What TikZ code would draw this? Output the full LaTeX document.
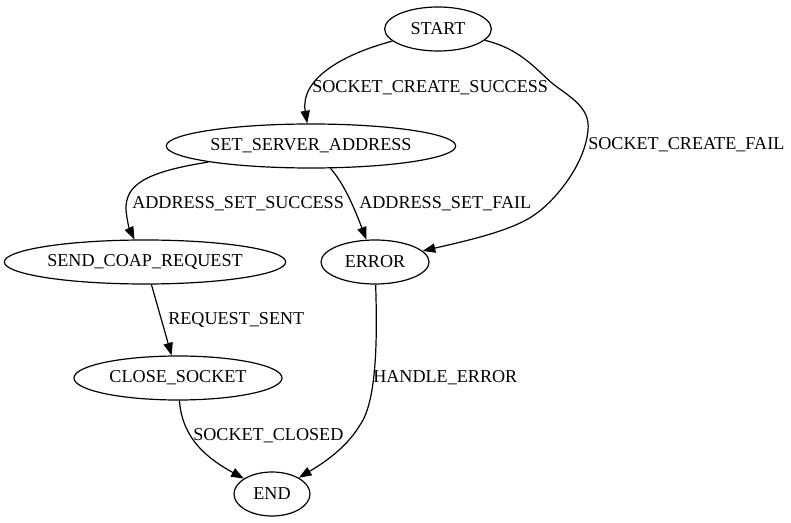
\documentclass[tikz,border=0pt]{standalone}
\usepackage{fontspec}
\setmainfont{Liberation Serif}
\usetikzlibrary{shapes.geometric,arrows.meta}

\begin{document}
\begin{tikzpicture}[x=0.75pt, y=-0.75pt,
    state/.style={draw, ellipse, line width=0.9pt, inner ysep=0pt, inner xsep=-30pt, minimum height=33pt},
    trans/.style={line width=0.9pt, -{Triangle[length=9.5pt,width=7pt]}},
    lbl/.style={inner sep=0pt, anchor=base west}]
  \fontsize{13.6}{16}\selectfont
  \useasboundingbox (0,0) rectangle (791,523);
  % States
  \node[state, minimum width=80pt] (start) at (438,29) {START};
  \node[state, minimum width=217pt] (setaddr) at (311,146) {SET\_SERVER\_ADDRESS};
  \node[state, minimum width=211pt] (sendreq) at (145,262) {SEND\_COAP\_REQUEST};
  \node[state, minimum width=81pt] (error) at (375,262) {ERROR};
  \node[state, minimum width=156pt] (close) at (178,378) {CLOSE\_SOCKET};
  \node[state, minimum width=57pt] (end) at (272,494) {END};
  % Transitions
  \draw[trans] (start) .. controls (340,55) and (300,80) .. (setaddr);
  \draw[trans] (start) .. controls (525,50) and (540,75) .. (557,87)
    .. controls (575,100) and (590,110) .. (588,130)
    .. controls (585,165) and (555,200) .. (537,213)
    .. controls (515,230) and (470,240) .. (error);
  \draw[trans] (setaddr) .. controls (145,172) and (125,185) .. (126,210)
    .. controls (127,220) and (129,228) .. (sendreq);
  \draw[trans] (setaddr) .. controls (345,185) and (355,210) .. (error);
  \draw[trans] (sendreq) -- (close);
  \draw[trans] (close) .. controls (182,440) and (210,460) .. (end);
  \draw[trans] (error) .. controls (377,330) and (378,400) .. (360,425)
    .. controls (345,450) and (320,465) .. (end);
  % Labels
  \node[lbl] (lcs) at (312,93) {SOCKET\_CREATE\_SUCCESS};
  \node[lbl] (lcf) at (588,150) {SOCKET\_CREATE\_FAIL};
  \node[lbl] (lass) at (132,209) {ADDRESS\_SET\_SUCCESS};
  \node[lbl] (lasf) at (359,209) {ADDRESS\_SET\_FAIL};
  \node[lbl] (lrs) at (168,325) {REQUEST\_SENT};
  \node[lbl] (lsc) at (193,440) {SOCKET\_CLOSED};
  \node[lbl] (lhe) at (373,382) {HANDLE\_ERROR};
\end{tikzpicture}
\end{document}
